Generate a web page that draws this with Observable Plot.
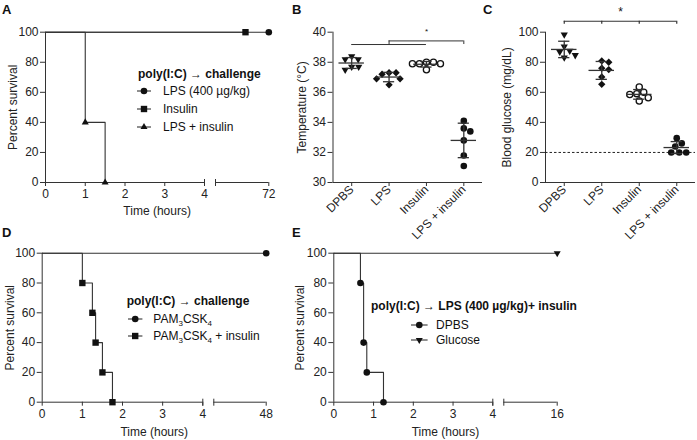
<!DOCTYPE html>
<html><head><meta charset="utf-8">
<script src="https://cdn.jsdelivr.net/npm/d3@7"></script>
<script src="https://cdn.jsdelivr.net/npm/@observablehq/plot@0.6"></script>
<style>
body{margin:0;background:#fff;}
#root{position:relative;width:697px;height:440px;overflow:hidden;font-family:'Liberation Sans',Arial,sans-serif;color:#222;}
.panel{position:absolute;}
.plabel{position:absolute;font-weight:bold;font-size:13px;line-height:13px;color:#111;}
.leg{position:absolute;font-size:12px;line-height:14px;white-space:nowrap;color:#111;}
.leg.title{font-weight:bold;}
.leg sub{font-size:8px;vertical-align:-3px;line-height:0;}
.legsym{position:absolute;overflow:visible;}
</style></head><body><div id="root"></div><script>
// ---------------- DATA ----------------
// Panel A: survival after poly(I:C) -> challenge
const aTimeLPS = [0, 72],          aSurvLPS = [100, 100];
const aTimeIns = [0, 51],          aSurvIns = [100, 100];
const aTimeLPSIns = [0, 1, 1.5],   aSurvLPSIns = [100, 40, 0];
const aTickLabels = [0, 1, 2, 3, 4, 72];
const aLegendLabels = ["LPS (400 µg/kg)", "Insulin", "LPS + insulin"];

// Panels B, C: groups
const groups = ["DPBS", "LPS", "Insulin", "LPS + insulin"];
// Panel B: temperature (°C)
const bDPBS   = [38.4, 38.2, 38.2, 37.7, 37.7, 37.5];
const bLPS    = [37.3, 37.3, 37.2, 36.9, 36.9, 36.5];
const bIns    = [38.0, 38.0, 37.9, 37.9, 37.9, 37.5];
const bLPSIns = [34.1, 33.6, 33.4, 32.8, 31.8, 31.1];
const bTicks  = [30, 32, 34, 36, 38, 40];
// Panel C: blood glucose (mg/dL)
const cDPBS   = [98.4, 90.5, 87.6, 86.9, 84.7, 83.1];
const cLPS    = [80.9, 80.0, 76.0, 75.1, 70.2, 65.3];
const cIns    = [63.6, 60.0, 59.1, 58.5, 56.4, 54.2];
const cLPSIns = [29.5, 26.0, 24.0, 20.0, 20.0, 20.0];
const cTicks  = [0, 20, 40, 60, 80, 100];
const cThreshold = 20;

// Panel D
const dTimePam = [0, 48],                          dSurvPam = [100, 100];
const dTimePamIns = [0, 1, 1.25, 1.33, 1.5, 1.75], dSurvPamIns = [100, 80, 60, 40, 20, 0];
const dTickLabels = [0, 1, 2, 3, 4, 48];

// Panel E
const eTimeDPBS = [0, 0.67, 0.75, 0.83, 1.25], eSurvDPBS = [100, 80, 40, 20, 0];
const eTimeGlu = [0, 16],                      eSurvGlu = [100, 100];
const eTickLabels = [0, 1, 2, 3, 4, 16];

const survTicks = [0, 20, 40, 60, 80, 100];

// ---------------- STYLE / HELPERS ----------------
const FONT = "'Liberation Sans', Arial, sans-serif";
const AX = "#333", LN = "#333", MK = "#111";
const root = document.getElementById("root");
const triangleDown = {
  draw(context, size) {
    const s3 = Math.sqrt(3);
    const y = -Math.sqrt(size / (s3 * 3));
    context.moveTo(0, -y * 2);
    context.lineTo(-s3 * y, y);
    context.lineTo(s3 * y, y);
    context.closePath();
  }
};
const d3sym = {circle: d3.symbolCircle, square: d3.symbolSquare, triangle: d3.symbolTriangle, diamond2: d3.symbolDiamond2};
const plotStyle = {fontFamily: FONT, fontSize: "12px", color: "#222", background: "none", overflow: "visible"};

function place(node, L, T) {
  const d = document.createElement("div");
  d.className = "panel"; d.style.left = L + "px"; d.style.top = T + "px";
  d.appendChild(node); root.appendChild(d);
}
function panelLetter(t, x, y) {
  const d = document.createElement("div");
  d.className = "plabel"; d.textContent = t; d.style.left = x + "px"; d.style.top = y + "px";
  root.appendChild(d);
}
function legend({title, titleX, titleY, items, lineX1, lineX2, markX, textX}) {
  const t = document.createElement("div");
  t.className = "leg title"; t.textContent = title;
  t.style.left = titleX + "px"; t.style.top = (titleY - 7) + "px";
  root.appendChild(t);
  items.forEach(it => {
    const d = document.createElement("div");
    d.className = "leg"; d.innerHTML = it.html;
    d.style.left = textX + "px"; d.style.top = (it.y - 7) + "px";
    root.appendChild(d);
    const w = lineX2 - lineX1;
    const svg = d3.create("svg").attr("class", "legsym").attr("width", w).attr("height", 12)
      .style("left", lineX1 + "px").style("top", (it.y - 6) + "px");
    svg.append("line").attr("x1", 0).attr("x2", w).attr("y1", 6).attr("y2", 6).attr("stroke", LN).attr("stroke-width", 1.1);
    const type = typeof it.symbol === "string" ? d3sym[it.symbol] : it.symbol;
    svg.append("path").attr("d", d3.symbol(type, Math.PI * it.r * it.r)())
      .attr("transform", `translate(${markX - lineX1},6)`).attr("fill", MK);
    root.appendChild(svg.node());
  });
}

function survivalPanel(cfg) {
  const {L, T, W, H, x0, x4, s2, xEnd, yTop, yBot, t0, tEnd, series, tickLabels, yLabelCapX, xLabelOffset} = cfg;
  const unit = (x4 - x0) / 4;
  const v0 = 4 + (s2 - x4) / unit, v1 = 4 + (xEnd - x4) / unit;
  const X = t => t <= 4 ? t : v0 + (t - t0) / (tEnd - t0) * (v1 - v0);
  const tickPos = tickLabels.map(X);
  const fmt = new Map(tickPos.map((p, i) => [p, String(tickLabels[i])]));
  const rowsOf = s => s.time.map((t, i) => ({t, x: X(t), y: s.surv[i]}));
  const marks = [
    Plot.ruleY([0, 0], {x1: [0, v0], x2: [4, v1], stroke: AX, strokeWidth: 1}),
    Plot.ruleX([0], {stroke: AX, strokeWidth: 1}),
    Plot.axisY({ticks: survTicks, tickSize: 5, tickPadding: 2, label: "Percent survival",
      labelAnchor: "center", labelArrow: "none", labelOffset: (x0 - L) - (yLabelCapX - L), stroke: AX}),
    Plot.axisX({ticks: tickPos, tickFormat: d => fmt.get(d), tickSize: 4, tickPadding: 3,
      label: "Time (hours)", labelAnchor: "center", labelArrow: "none", labelOffset: xLabelOffset, stroke: AX}),
    Plot.axisX({ticks: [4, v0], tickSize: 7, dy: -3, tickFormat: () => "", label: null, stroke: AX})
  ];
  series.forEach(s => {
    const rows = rowsOf(s);
    marks.push(Plot.line(rows, {x: "x", y: "y", curve: "step-after", stroke: LN, strokeWidth: 1.1}));
    marks.push(Plot.dot(rows.filter(d => d.t > 0), {x: "x", y: "y", symbol: s.symbol, r: s.r, fill: MK, stroke: "none"}));
  });
  return Plot.plot({
    width: W, height: H,
    marginLeft: x0 - L, marginRight: L + W - xEnd, marginTop: yTop - T, marginBottom: T + H - yBot,
    x: {domain: [0, v1]}, y: {domain: [0, 100]},
    style: plotStyle, marks
  });
}

function swarm(vals, pxPerUnit, stepPx, diam) {
  const placed = [], off = new Array(vals.length);
  const order = vals.map((v, i) => i).sort((a, b) => vals[b] - vals[a]);
  for (const i of order) {
    const y = vals[i] * pxPerUnit;
    for (let k = 0; k < 200; k++) {
      const cands = k === 0 ? [0] : [k * 0.5, -k * 0.5];
      let ok = null;
      for (const c of cands) if (placed.every(p => Math.hypot(p.x - c, p.y - y) >= diam)) { ok = c; break; }
      if (ok !== null) { placed.push({x: ok, y}); off[i] = ok / stepPx; break; }
    }
  }
  return off;
}

function scatterPanel(cfg) {
  const {L, T, W, H, x0, xEnd, yTop, yBot, domain, ticks, label, yLabelCapX, values, extra} = cfg;
  const stepPx = (xEnd - x0) / groups.length;
  const pxPerUnit = (yBot - yTop) / (domain[1] - domain[0]);
  const styles = [
    {symbol: triangleDown, r: 2.7, fill: MK, stroke: "none"},
    {symbol: "diamond2", r: 3.3, fill: MK, stroke: "none"},
    {symbol: "circle", r: 3.1, fill: "white", stroke: MK},
    {symbol: "circle", r: 3.3, fill: MK, stroke: "none"}
  ];
  const stats = values.map((v, i) => ({i, mean: d3.mean(v), sd: d3.deviation(v)}));
  const marks = [
    Plot.ruleY([domain[0]], {stroke: AX, strokeWidth: 1}),
    Plot.ruleX([-0.5], {stroke: AX, strokeWidth: 1}),
    Plot.axisY({ticks, tickSize: 5, tickPadding: 2, label, labelAnchor: "center", labelArrow: "none",
      labelOffset: (x0 - L) - (yLabelCapX - L), stroke: AX}),
    Plot.axisX({ticks: [0, 1, 2, 3], tickFormat: i => groups[i], tickRotate: -45, tickSize: 4, tickPadding: 1, label: null, stroke: AX}),
    ...(extra || [])
  ];
  values.forEach((v, gi) => {
    const off = swarm(v, pxPerUnit, stepPx, 7);
    const pts = v.map((val, j) => ({x: gi + off[j], y: val}));
    const st = styles[gi];
    marks.push(Plot.dot(pts, {x: "x", y: "y", symbol: st.symbol, r: st.r, fill: st.fill, stroke: st.stroke, strokeWidth: 1.3}));
  });
  marks.push(
    Plot.ruleY(stats, {y: "mean", x1: d => d.i - 0.34, x2: d => d.i + 0.34, stroke: AX, strokeWidth: 1.3}),
    Plot.ruleX(stats, {x: "i", y1: d => d.mean - d.sd, y2: d => d.mean + d.sd, stroke: AX, strokeWidth: 1.3}),
    Plot.ruleY(stats, {y: d => d.mean + d.sd, x1: d => d.i - 0.15, x2: d => d.i + 0.15, stroke: AX, strokeWidth: 1.3}),
    Plot.ruleY(stats, {y: d => d.mean - d.sd, x1: d => d.i - 0.15, x2: d => d.i + 0.15, stroke: AX, strokeWidth: 1.3})
  );
  return Plot.plot({
    width: W, height: H,
    marginLeft: x0 - L, marginRight: L + W - xEnd, marginTop: yTop - T, marginBottom: T + H - yBot,
    x: {domain: [-0.5, 3.5]}, y: {domain},
    style: plotStyle, marks
  });
}

// ---------------- PANEL A ----------------
place(survivalPanel({
  L: 0, T: 0, W: 290, H: 220, x0: 45, x4: 204, s2: 215, xEnd: 268.3, yTop: 31.7, yBot: 182,
  t0: 24, tEnd: 72, tickLabels: aTickLabels, yLabelCapX: 8, xLabelOffset: 32.5,
  series: [
    {time: aTimeLPS, surv: aSurvLPS, symbol: "circle", r: 3.3},
    {time: aTimeIns, surv: aSurvIns, symbol: "square", r: 3.6},
    {time: aTimeLPSIns, surv: aSurvLPSIns, symbol: "triangle", r: 2.6}
  ]
}), 0, 0);
legend({title: "poly(I:C) \u2192 challenge", titleX: 138, titleY: 74, lineX1: 137, lineX2: 151, markX: 144, textX: 163,
  items: [
    {html: aLegendLabels[0], y: 91, symbol: "circle", r: 3.3},
    {html: aLegendLabels[1], y: 108.5, symbol: "square", r: 3.6},
    {html: aLegendLabels[2], y: 126.5, symbol: "triangle", r: 2.6}
  ]});

// ---------------- PANEL B ----------------
const bLow = 39.18, bHigh = 39.42;
place(scatterPanel({
  L: 280, T: 0, W: 210, H: 250, x0: 332.5, xEnd: 482, yTop: 31.7, yBot: 182,
  domain: [30, 40], ticks: bTicks, label: "Temperature (\u00B0C)", yLabelCapX: 296.5,
  values: [bDPBS, bLPS, bIns, bLPSIns],
  extra: [
    Plot.ruleY([bLow], {x1: 0, x2: 2, stroke: AX, strokeWidth: 1}),
    Plot.ruleY([bHigh], {x1: 1, x2: 3, stroke: AX, strokeWidth: 1}),
    Plot.ruleX([1, 3], {y1: bLow, y2: bHigh, stroke: AX, strokeWidth: 1}),
    Plot.text(["*"], {x: 2, y: 39.85, text: d => d, lineAnchor: "bottom", fontSize: 8, fill: "#111"})
  ]
}), 280, 0);

// ---------------- PANEL C ----------------
const cBar = 107.3, cTick = 105.3;
place(scatterPanel({
  L: 490, T: 0, W: 207, H: 250, x0: 545, xEnd: 695, yTop: 31.7, yBot: 182,
  domain: [0, 100], ticks: cTicks, label: "Blood glucose (mg/dL)", yLabelCapX: 502,
  values: [cDPBS, cLPS, cIns, cLPSIns],
  extra: [
    Plot.ruleY([cThreshold], {stroke: "#222", strokeWidth: 1, strokeDasharray: "2.5,2"}),
    Plot.ruleY([cBar], {x1: 0, x2: 3, stroke: AX, strokeWidth: 1.2}),
    Plot.ruleX([0, 1, 2, 3], {y1: cTick, y2: cBar, stroke: AX, strokeWidth: 1.2}),
    Plot.text(["*"], {x: 1.5, y: 110.7, text: d => d, lineAnchor: "bottom", fontSize: 12, fill: "#111"})
  ]
}), 490, 0);

// ---------------- PANEL D ----------------
place(survivalPanel({
  L: 0, T: 220, W: 290, H: 220, x0: 41.7, x4: 202.3, s2: 213.3, xEnd: 265.7, yTop: 252.7, yBot: 401.7,
  t0: 24, tEnd: 48, tickLabels: dTickLabels, yLabelCapX: 5, xLabelOffset: 33.5,
  series: [
    {time: dTimePam, surv: dSurvPam, symbol: "circle", r: 3.3},
    {time: dTimePamIns, surv: dSurvPamIns, symbol: "square", r: 3.6}
  ]
}), 0, 220);
legend({title: "poly(I:C) \u2192 challenge", titleX: 126.7, titleY: 300.7, lineX1: 128.3, lineX2: 142.7, markX: 135.5, textX: 153.3,
  items: [
    {html: "PAM<sub>3</sub>CSK<sub>4</sub>", y: 319.3, symbol: "circle", r: 3.3},
    {html: "PAM<sub>3</sub>CSK<sub>4</sub> + insulin", y: 335.7, symbol: "square", r: 3.6}
  ]});

// ---------------- PANEL E ----------------
place(survivalPanel({
  L: 290, T: 220, W: 280, H: 220, x0: 333.3, x4: 492.3, s2: 503.3, xEnd: 556.7, yTop: 252.7, yBot: 401.7,
  t0: 8, tEnd: 16, tickLabels: eTickLabels, yLabelCapX: 295, xLabelOffset: 33.5,
  series: [
    {time: eTimeDPBS, surv: eSurvDPBS, symbol: "circle", r: 3.3},
    {time: eTimeGlu, surv: eSurvGlu, symbol: triangleDown, r: 2.6}
  ]
}), 290, 220);
legend({title: "poly(I:C) \u2192 LPS (400 \u00B5g/kg)+ insulin", titleX: 371, titleY: 306, lineX1: 410.7, lineX2: 427.3, markX: 419, textX: 436,
  items: [
    {html: "DPBS", y: 325, symbol: "circle", r: 3.3},
    {html: "Glucose", y: 340, symbol: triangleDown, r: 2.6}
  ]});

// ---------------- PANEL LETTERS ----------------
panelLetter("A", 2, 2.5);
panelLetter("B", 292, 2.5);
panelLetter("C", 483, 2.5);
panelLetter("D", 2, 225.5);
panelLetter("E", 292, 225.5);
</script></body></html>
